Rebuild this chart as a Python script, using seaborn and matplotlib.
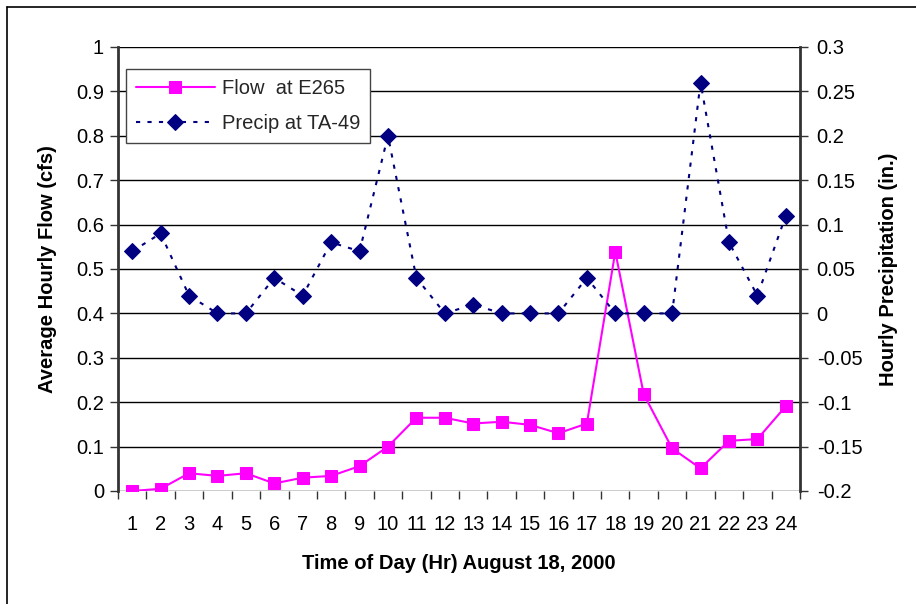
import matplotlib
matplotlib.use("Agg")
import matplotlib.pyplot as plt
from matplotlib.lines import Line2D
import seaborn as sns
import pandas as pd
import numpy as np

hours = list(range(1, 25))
flow_e265 = [0.0, 0.005, 0.04, 0.034, 0.04, 0.017, 0.03, 0.034, 0.056, 0.10,
             0.165, 0.165, 0.152, 0.156, 0.149, 0.13, 0.152, 0.539, 0.218, 0.096,
             0.051, 0.113, 0.117, 0.191]
precip_ta49 = [0.07, 0.09, 0.02, 0.0, 0.0, 0.04, 0.02, 0.08, 0.07, 0.20,
               0.04, 0.0, 0.01, 0.0, 0.0, 0.0, 0.04, 0.0, 0.0, 0.0,
               0.26, 0.08, 0.02, 0.11]
flow_ticks = [0, 0.1, 0.2, 0.3, 0.4, 0.5, 0.6, 0.7, 0.8, 0.9, 1]
flow_tick_labels = ["0", "0.1", "0.2", "0.3", "0.4", "0.5", "0.6", "0.7", "0.8", "0.9", "1"]
precip_ticks = [-0.2, -0.15, -0.1, -0.05, 0, 0.05, 0.1, 0.15, 0.2, 0.25, 0.3]
precip_tick_labels = ["-0.2", "-0.15", "-0.1", "-0.05", "0", "0.05", "0.1", "0.15", "0.2", "0.25", "0.3"]

sns.set_theme(style="white")
plt.rcParams["font.family"] = ["Liberation Sans", "DejaVu Sans"]

df = pd.DataFrame({"hour": hours, "flow": flow_e265, "precip": precip_ta49})

W, H = 916, 604
fig = plt.figure(figsize=(W / 100, H / 100), dpi=100)
fig.patch.set_facecolor("white")
ax = fig.add_axes([118 / W, 1 - 491 / H, 682 / W, 444 / H])
ax2 = ax.twinx()

# outer chart border (left and top edges)
fig.add_artist(Line2D([7 / W, 7 / W], [0, 1 - 7 / H], color="black", lw=1.2))
fig.add_artist(Line2D([7 / W, 1], [1 - 7 / H, 1 - 7 / H], color="black", lw=1.2))

magenta = "#FF00FF"
navy = "#000080"
fs = 14.5

sns.lineplot(data=df, x="hour", y="flow", ax=ax, color=magenta, lw=1.5,
             marker="s", markersize=8, markeredgecolor=magenta,
             label="Flow  at E265", legend=False)
sns.lineplot(data=df, x="hour", y="precip", ax=ax2, color=navy, lw=1.5,
             linestyle=(0, (2, 3.5)), marker="D", markersize=8.5,
             markeredgecolor=navy, label="Precip at TA-49", legend=False)

ax.set_xlim(0.5, 24.5)
ax.set_ylim(0, 1)
ax2.set_ylim(-0.2, 0.3)

ax.set_yticks(flow_ticks)
ax.set_yticklabels(flow_tick_labels)
ax2.set_yticks(precip_ticks)
ax2.set_yticklabels(precip_tick_labels)
ax.set_xticks(hours)
ax.set_xticklabels([str(h) for h in hours])
ax.set_xticks(np.arange(0.5, 25, 1), minor=True)

ax.grid(axis="y", color="black", lw=1)
ax.grid(axis="x", visible=False)
ax.set_axisbelow(True)

for a in (ax, ax2):
    for s in ("top", "bottom", "left", "right"):
        a.spines[s].set_visible(False)
ax.spines["left"].set_visible(True)
ax.spines["left"].set_color("#333333")
ax.spines["left"].set_linewidth(2)
ax2.spines["right"].set_visible(True)
ax2.spines["right"].set_color("#333333")
ax2.spines["right"].set_linewidth(2)

ax.tick_params(axis="y", which="major", direction="out", length=6, width=1,
               color="#333333", left=True, labelsize=fs, pad=4, labelcolor="black")
ax2.tick_params(axis="y", which="major", direction="out", length=6, width=1,
                color="#333333", right=True, labelsize=fs, pad=6, labelcolor="black")
ax.tick_params(axis="x", which="major", length=0, labelsize=fs, pad=17, labelcolor="black")
ax.tick_params(axis="x", which="minor", direction="out", length=6, width=1,
               color="#333333", bottom=True)

ax.set_xlabel("Time of Day (Hr) August 18, 2000", fontsize=fs, fontweight="bold",
              labelpad=15, color="black")
ax.set_ylabel("Average Hourly Flow (cfs)", fontsize=fs, fontweight="bold",
              labelpad=14, color="black")
ax2.set_ylabel("Hourly Precipitation (in.)", fontsize=fs, fontweight="bold",
               labelpad=12, color="black")

handles = ax.get_lines()[:1] + ax2.get_lines()[:1]
leg = ax2.legend(handles=handles, labels=["Flow  at E265", "Precip at TA-49"],
                 loc="upper left", bbox_to_anchor=(8 / 682, (491 - 69) / 444),
                 borderaxespad=0, frameon=True, fancybox=False, framealpha=1,
                 edgecolor="#444444", fontsize=fs, handlelength=3.9,
                 borderpad=0.5, labelspacing=0.8, handletextpad=0.35)
leg.get_frame().set_linewidth(1)

fig.savefig("out.png", dpi=100, facecolor="white")
